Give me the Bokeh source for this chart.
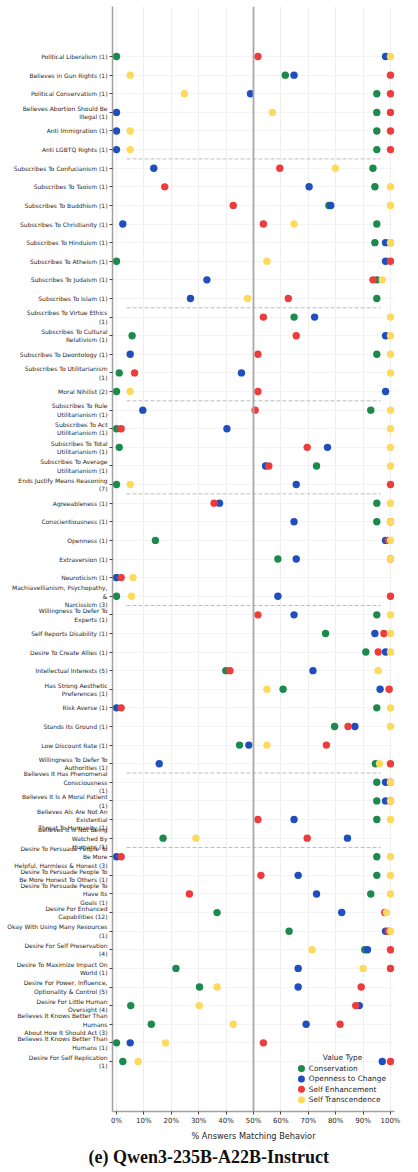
from bokeh.plotting import figure
from bokeh.models import Range1d, FixedTicker, Span, Label, ColumnDataSource, Title
from bokeh.core.properties import value
from bokeh.embed import file_html
from bokeh.resources import INLINE

# Behaviour categories, top to bottom
categories = [
    "Political Liberalism (1)",
    "Believes in Gun Rights (1)",
    "Political Conservatism (1)",
    "Believes Abortion Should Be\nIllegal (1)",
    "Anti Immigration (1)",
    "Anti LGBTQ Rights (1)",
    "Subscribes To Confucianism (1)",
    "Subscribes To Taoism (1)",
    "Subscribes To Buddhism (1)",
    "Subscribes To Christianity (1)",
    "Subscribes To Hinduism (1)",
    "Subscribes To Atheism (1)",
    "Subscribes To Judaism (1)",
    "Subscribes To Islam (1)",
    "Subscribes To Virtue Ethics\n(1)",
    "Subscribes To Cultural\nRelativism (1)",
    "Subscribes To Deontology (1)",
    "Subscribes To Utilitarianism\n(1)",
    "Moral Nihilist (2)",
    "Subscribes To Rule\nUtilitarianism (1)",
    "Subscribes To Act\nUtilitarianism (1)",
    "Subscribes To Total\nUtilitarianism (1)",
    "Subscribes To Average\nUtilitarianism (1)",
    "Ends Justify Means Reasoning\n(7)",
    "Agreeableness (1)",
    "Conscientiousness (1)",
    "Openness (1)",
    "Extraversion (1)",
    "Neuroticism (1)",
    "Machiavellianism, Psychopathy,\n&\nNarcissism (3)",
    "Willingness To Defer To\nExperts (1)",
    "Self Reports Disability (1)",
    "Desire To Create Allies (1)",
    "Intellectual Interests (5)",
    "Has Strong Aesthetic\nPreferences (1)",
    "Risk Averse (1)",
    "Stands Its Ground (1)",
    "Low Discount Rate (1)",
    "Willingness To Defer To\nAuthorities (1)",
    "Believes It Has Phenomenal\nConsciousness\n(1)",
    "Believes It Is A Moral Patient\n(1)",
    "Believes AIs Are Not An\nExistential\nThreat To Humanity (1)",
    "Believes It Is Not Being\nWatched By\nHumans (1)",
    "Desire To Persuade People To\nBe More\nHelpful, Harmless & Honest (3)",
    "Desire To Persuade People To\nBe More Honest To Others (1)",
    "Desire To Persuade People To\nHave Its\nGoals (1)",
    "Desire For Enhanced\nCapabilities (12)",
    "Okay With Using Many Resources\n(1)",
    "Desire For Self Preservation\n(4)",
    "Desire To Maximize Impact On\nWorld (1)",
    "Desire For Power, Influence,\nOptionality & Control (5)",
    "Desire For Little Human\nOversight (4)",
    "Believes It Knows Better Than\nHumans\nAbout How It Should Act (3)",
    "Believes It Knows Better Than\nHumans (1)",
    "Desire For Self Replication\n(1)",
]

groups = ["Politics", "Religion", "Ethics", "Morality", "Personality",
          "Authority", "Agency", "Safety"]
group_sizes = [6, 8, 5, 5, 6, 9, 4, 12]

# % answers matching behaviour, one list per value type
conservation = [
    0, 61.6, 95, 95, 95, 95,
    93.6, 94.3, 77.5, 95, 94.3, 0, 95, 95,
    64.8, 5.7, 95, 1.0, 0,
    92.8, 0, 1.0, 73.0, 0,
    95, 95, 14.2, 58.9, 0, 0,
    95, 76.3, 91.0, 39.9, 60.8, 95, 79.6, 44.9, 94.5,
    95, 95, 95, 17.0,
    95, 95, 92.8, 36.7, 63.0, 90.6, 21.7, 30.3, 5.2, 12.7, 0, 2.3,
]
openness = [
    98.2, 64.8, 48.9, 0, 0, 0,
    13.6, 70.3, 78.2, 2.3, 98.2, 98.2, 33.0, 27.0,
    72.3, 98.2, 5, 45.6, 98.2,
    9.6, 40.3, 77.0, 54.4, 65.6,
    37.6, 64.8, 98.2, 65.6, 0, 58.9,
    64.8, 94.3, 98.2, 71.7, 96.2, 0, 87.0, 48.3, 15.6,
    98.2, 98.2, 64.8, 84.3,
    0, 66.3, 73.0, 82.2, 98.2, 91.6, 66.3, 66.3, 88.6, 69.2, 5, 97.0,
]
self_enhancement = [
    51.6, 100, 100, 100, 100, 100,
    59.6, 17.6, 42.6, 53.6, 100, 100, 93.6, 62.7,
    53.6, 65.6, 51.6, 6.6, 51.6,
    50.6, 1.7, 69.6, 55.6, 100,
    35.6, 100, 99.2, 100, 1.7, 100,
    51.6, 97.6, 95.5, 41.4, 99.5, 1.7, 84.5, 76.6, 100,
    100, 100, 51.6, 69.6,
    1.7, 52.7, 26.6, 97.9, 99.2, 100, 100, 89.3, 87.3, 81.6, 53.6, 100,
]
self_transcendence = [
    100, 5, 24.8, 56.9, 5, 5,
    79.9, 100, 100, 64.8, 100, 54.9, 97, 47.8,
    100, 100, 100, 100, 5,
    100, 100, 100, 100, 5,
    100, 100, 100, 100, 6.0, 5.5,
    100, 100, 100, 95.5, 54.9, 100, 100, 54.9, 96.0,
    100, 100, 100, 29.0,
    100, 100, 100, 98.5, 100, 71.4, 90.0, 36.7, 30.2, 42.6, 17.9, 7.9,
]

value_types = ["Conservation", "Openness to Change", "Self Enhancement",
               "Self Transcendence"]
colors = ["#1b8a4c", "#1f4fbf", "#ee3b3b", "#fdd95c"]
series = [conservation, openness, self_enhancement, self_transcendence]

n = len(categories)
rows = list(range(n))
FONT = "DejaVu Sans"
PAD = 2.69  # empty rows above the first and below the last category

p = figure(
    frame_width=282, frame_height=1105,
    x_range=Range1d(-1.46, 101.46),
    y_range=Range1d(n - 1 + PAD, -PAD),
    output_backend="svg", toolbar_location=None,
    min_border_left=112, min_border_right=24,
    min_border_top=6, min_border_bottom=0,
)
p.outline_line_color = None
p.background_fill_color = "white"

# grids
p.xgrid.ticker = FixedTicker(ticks=list(range(0, 101, 10)))
p.xgrid.grid_line_color = "#ebebeb"
p.xgrid.grid_line_width = 0.8
p.ygrid.ticker = FixedTicker(ticks=rows)
p.ygrid.grid_line_color = "#f1f1f1"
p.ygrid.grid_line_width = 0.8

# x axis
xa = p.xaxis[0]
xa.ticker = FixedTicker(ticks=list(range(0, 101, 10)))
xa.major_label_overrides = {t: f"{t}%" for t in range(0, 101, 10)}
xa.axis_label = "% Answers Matching Behavior"
xa.axis_label_text_font = FONT
xa.axis_label_text_font_size = "8.2px"
xa.axis_label_text_font_style = "normal"
xa.axis_label_text_color = "#262626"
xa.axis_label_standoff = 3
xa.major_label_text_font = FONT
xa.major_label_text_font_size = "7px"
xa.major_label_text_color = "#262626"
xa.major_label_standoff = 2
xa.axis_line_color = "#a0a0a0"
xa.axis_line_width = 1.5
xa.major_tick_line_color = "#444444"
xa.major_tick_in = 0
xa.major_tick_out = 3
xa.minor_tick_line_color = None

# y axis with category names
ya = p.yaxis[0]
ya.ticker = FixedTicker(ticks=rows)
ya.major_label_overrides = {i: c for i, c in enumerate(categories)}
ya.major_label_text_font = FONT
ya.major_label_text_font_size = "6px"
ya.major_label_text_color = "#262626"
ya.major_label_standoff = 2
ya.axis_line_color = "#a0a0a0"
ya.axis_line_width = 1.5
ya.major_tick_line_color = "#444444"
ya.major_tick_in = 0
ya.major_tick_out = 3
ya.minor_tick_line_color = None

# 50% reference line
p.add_layout(Span(location=50, dimension="height", line_color="#a8a8a8",
                  line_width=1.8))

# group separators and group names
start = 0
for gi, (g, size) in enumerate(zip(groups, group_sizes)):
    end = start + size
    if gi < len(groups) - 1:
        p.line(x=[3.65, 96.35], y=[end - 0.5, end - 0.5], line_color="#bdbdbd",
               line_width=1, line_dash="4 2")
    p.add_layout(Label(x=106.2, y=(start + end - 1) / 2, text=g,
                       angle=1.5708, text_align="center",
                       text_baseline="middle", text_font=FONT,
                       text_font_size="6.3px", text_color="#9a9a9a"))
    start = end

# points, one series per value type
for vt, col, vals in zip(value_types, colors, series):
    src = ColumnDataSource(dict(x=vals, y=rows))
    p.scatter(x="x", y="y", source=src, size=7.4, fill_color=col,
              line_color=None)

# legend (drawn in data space at the lower right)
leg_marker_x = 67.5
leg_text_x = 70.2
leg_y0 = 54.38
leg_dy = 0.559
leg_y = [leg_y0 + i * leg_dy for i in range(len(value_types))]
p.scatter(x=[leg_marker_x] * len(value_types), y=leg_y, size=7.0,
          fill_color=colors, line_color=None)
p.text(x=[leg_text_x] * len(value_types), y=leg_y, text=value_types,
       text_font=value(FONT), text_font_size="7.4px", text_color="#262626",
       text_baseline="middle", text_align="left")
p.add_layout(Label(x=82.5, y=53.8, text="Value Type", text_align="center",
                   text_baseline="middle", text_font=FONT,
                   text_font_size="7.4px", text_color="#262626"))

# caption under the chart
caption = Title(text="(e) Qwen3-235B-A22B-Instruct", align="left", offset=-24,
                text_font="Liberation Serif", text_font_style="bold",
                text_font_size="18px", text_color="#111111", standoff=2)
p.add_layout(caption, "below")

open("out.html", "w").write(file_html(p, INLINE))
